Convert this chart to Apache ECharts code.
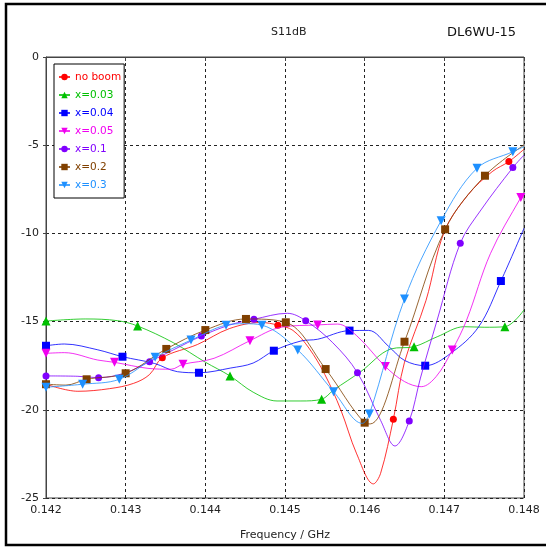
<!DOCTYPE html>
<html>
<head>
<meta charset="utf-8">
<script src="https://cdn.jsdelivr.net/npm/echarts@6/dist/echarts.min.js"></script>
<style>
html,body{margin:0;padding:0;background:#fff;}
#chart{width:546px;height:550px;}
</style>
</head>
<body>
<div id="chart"></div>
<script>
// ---- data (frequency in GHz, S11 in dB, 1 = marker drawn at that sample) ----
const seriesNames = ['no boom', 'x=0.03', 'x=0.04', 'x=0.05', 'x=0.1', 'x=0.2', 'x=0.3'];
const yTicks = [0, -5, -10, -15, -20, -25];
const xTicks = [0.142, 0.143, 0.144, 0.145, 0.146, 0.147, 0.148];

const noBoomFreq = [0.142, 0.1424, 0.1428, 0.1431, 0.1433, 0.14346, 0.1439, 0.1443, 0.1447, 0.14491, 0.1451, 0.1453, 0.1455, 0.1457, 0.1459, 0.14611, 0.1462, 0.14636, 0.1465, 0.14677, 0.1470, 0.1473, 0.1476, 0.14781, 0.148];
const noBoomS11  = [-18.55, -18.95, -18.8, -18.5, -18.0, -17.05, -16.3, -15.4, -15.05, -15.2, -15.5, -16.5, -18.0, -20.0, -22.5, -24.2, -23.6, -20.54, -17.3, -13.8, -9.9, -7.8, -6.5, -5.93, -5.23];
const noBoomMark = [1,0,0,0,0,1,0,0,0,1,0,0,0,0,0,0,0,1,0,0,0,0,0,1,0];

const x003Freq = [0.142, 0.1425, 0.1429, 0.14315, 0.1436, 0.1440, 0.14431, 0.1446, 0.1449, 0.1452, 0.14546, 0.14561, 0.14595, 0.14633, 0.14662, 0.14691, 0.14725, 0.1475, 0.14776, 0.148];
const x003S11  = [-14.97, -14.85, -14.95, -15.25, -16.2, -17.3, -18.08, -19.0, -19.5, -19.5, -19.4, -18.88, -17.84, -16.55, -16.42, -15.86, -15.29, -15.32, -15.29, -14.34];
const x003Mark = [1,0,0,1,0,0,1,0,0,0,1,0,0,0,1,0,0,0,1,0];

const x004Freq = [0.142, 0.14223, 0.14265, 0.14296, 0.14336, 0.14365, 0.14392, 0.14432, 0.1446, 0.14486, 0.1452, 0.14541, 0.14581, 0.14605, 0.1463, 0.1465, 0.14676, 0.14708, 0.14743, 0.14771, 0.148];
const x004S11  = [-16.37, -16.27, -16.6, -16.99, -17.37, -17.84, -17.9, -17.63, -17.35, -16.65, -16.1, -16.0, -15.51, -15.5, -16.4, -17.2, -17.5, -16.8, -15.3, -12.7, -9.71];
const x004Mark = [1,0,0,1,0,0,1,0,0,1,0,0,1,0,0,0,1,0,0,1,0];

const x005Freq = [0.142, 0.14223, 0.14265, 0.14286, 0.14328, 0.14357, 0.14372, 0.14411, 0.14456, 0.14495, 0.14541, 0.14566, 0.1459, 0.14626, 0.1465, 0.14671, 0.1469, 0.1471, 0.14728, 0.14758, 0.14796, 0.148];
const x005S11  = [-16.8, -16.76, -17.18, -17.31, -17.65, -17.7, -17.42, -17.08, -16.08, -15.32, -15.19, -15.14, -15.8, -17.55, -18.4, -18.69, -18.1, -16.61, -14.91, -11.13, -7.97, -7.8];
const x005Mark = [1,0,0,1,0,0,1,0,1,0,1,0,0,1,0,0,0,1,0,0,1,0];

const x01Freq = [0.142, 0.1424, 0.14266, 0.1430, 0.1433, 0.1436, 0.14395, 0.1443, 0.14461, 0.14503, 0.14526, 0.1456, 0.14591, 0.1462, 0.14638, 0.14656, 0.1467, 0.14691, 0.1472, 0.14746, 0.14786, 0.148];
const x01S11  = [-18.08, -18.1, -18.18, -17.9, -17.27, -16.6, -15.82, -15.2, -14.87, -14.53, -14.95, -16.2, -17.9, -20.6, -22.05, -20.63, -18.2, -14.91, -10.56, -8.67, -6.27, -5.56];
const x01Mark = [1,0,1,0,1,0,1,0,1,0,1,0,1,0,0,1,0,0,1,0,1,0];

const x02Freq = [0.142, 0.14225, 0.14251, 0.143, 0.14351, 0.144, 0.14451, 0.14501, 0.14551, 0.146, 0.14607, 0.1465, 0.14701, 0.14751, 0.148];
const x02S11  = [-18.55, -18.6, -18.27, -17.93, -16.55, -15.48, -14.85, -15.04, -17.69, -20.73, -20.8, -16.14, -9.77, -6.73, -4.99];
const x02Mark = [1,0,1,1,1,1,1,1,1,1,0,1,1,1,0];

const x03Freq = [0.142, 0.14246, 0.14292, 0.14337, 0.14382, 0.14426, 0.14449, 0.14471, 0.14516, 0.14561, 0.14597, 0.14606, 0.1465, 0.14696, 0.14741, 0.14786, 0.148];
const x03S11  = [-18.72, -18.55, -18.27, -17.02, -16.05, -15.2, -15.12, -15.2, -16.61, -18.97, -20.77, -20.24, -13.72, -9.28, -6.31, -5.37, -5.08];
const x03Mark = [1,1,1,1,1,1,0,1,1,1,0,1,1,1,1,1,0];

// ---- styling ----
const colors = ['#ff0000', '#00c000', '#0000ff', '#f000f0', '#8000ff', '#804000', '#1e90ff'];
const symbols = ['circle', 'triangle', 'rect', 'triangle', 'circle', 'rect', 'triangle'];
const rotations = [0, 0, 0, 180, 0, 0, 180];
const sizes = [7, 9, 8, 9, 7, 8, 9];
const freqs = [noBoomFreq, x003Freq, x004Freq, x005Freq, x01Freq, x02Freq, x03Freq];
const vals = [noBoomS11, x003S11, x004S11, x005S11, x01S11, x02S11, x03S11];
const marks = [noBoomMark, x003Mark, x004Mark, x005Mark, x01Mark, x02Mark, x03Mark];

const FONT = 'DejaVu Sans';

const series = seriesNames.map((name, k) => ({
  name: name,
  type: 'line',
  smooth: 0.35,
  showSymbol: true,
  showAllSymbol: true,
  symbol: symbols[k],
  symbolRotate: rotations[k],
  symbolSize: sizes[k],
  itemStyle: { color: colors[k] },
  lineStyle: { color: colors[k], width: 1, opacity: 0.8 },
  emphasis: { disabled: true },
  animation: false,
  z: 3 + k,
  data: freqs[k].map((f, i) => marks[k][i] ? { value: [f, vals[k][i]] } : { value: [f, vals[k][i]], symbol: 'none' })
}));

const chart = echarts.init(document.getElementById('chart'), null, { renderer: 'canvas' });
chart.setOption({
  animation: false,
  backgroundColor: '#fff',
  textStyle: { fontFamily: FONT },
  title: [
    { text: 'S11dB', left: 266, top: 22, textStyle: { fontFamily: FONT, fontSize: 11, fontWeight: 'normal', color: '#222' } },
    { text: 'DL6WU-15', left: 442, top: 21, textStyle: { fontFamily: FONT, fontSize: 13, fontWeight: 'normal', color: '#111' } }
  ],
  graphic: [
    { type: 'rect', silent: true, z: 100, shape: { x: 6, y: 4, width: 600, height: 541 }, style: { fill: 'none', stroke: '#000', lineWidth: 2.5 } }
  ],
  grid: { left: 46, top: 57, right: 22, bottom: 52, show: true, borderColor: '#444', borderWidth: 1, backgroundColor: 'transparent' },
  legend: {
    orient: 'vertical',
    left: 54, top: 64,
    padding: [6, 3, 6, 4],
    itemGap: 4,
    itemWidth: 11, itemHeight: 8,
    borderColor: '#000', borderWidth: 1,
    backgroundColor: '#fff',
    selectedMode: false,
    textStyle: { fontFamily: FONT, fontSize: 10.5, lineHeight: 14 },
    data: seriesNames.map((n, k) => ({ name: n, textStyle: { color: colors[k] } }))
  },
  xAxis: {
    type: 'value',
    min: 0.142, max: 0.148, interval: 0.001,
    name: 'Frequency / GHz', nameLocation: 'middle', nameGap: 32,
    nameTextStyle: { fontFamily: FONT, fontSize: 11, color: '#222' },
    axisLine: { show: true, lineStyle: { color: '#444', width: 1 } },
    axisTick: { show: true, inside: false, length: 4, lineStyle: { color: '#444' } },
    axisLabel: { fontFamily: FONT, fontSize: 11, color: '#222', margin: 7, formatter: v => v.toFixed(3) },
    splitLine: { show: true, lineStyle: { color: '#222', type: [3, 3], width: 1 } }
  },
  yAxis: {
    type: 'value',
    min: -25, max: 0, interval: 5,
    axisLine: { show: true, lineStyle: { color: '#444', width: 1 } },
    axisTick: { show: true, inside: false, length: 3, lineStyle: { color: '#444' } },
    axisLabel: { fontFamily: FONT, fontSize: 11, color: '#222', margin: 7 },
    splitLine: { show: true, lineStyle: { color: '#222', type: [3, 3], width: 1 } }
  },
  series: series
});
</script>
</body>
</html>
